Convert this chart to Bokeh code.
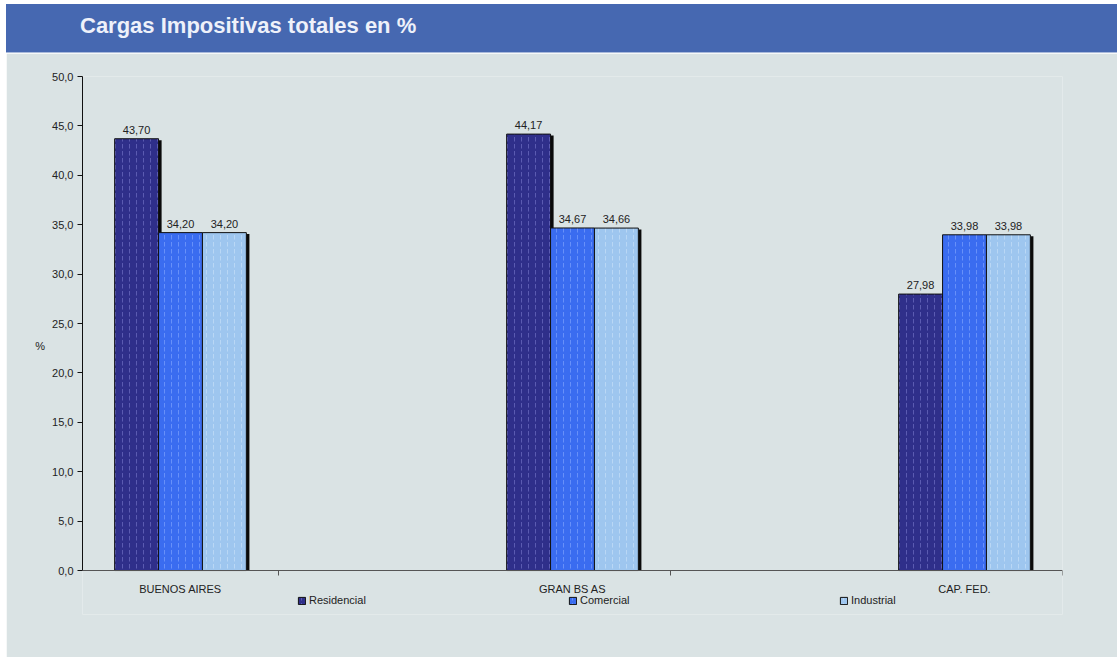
from bokeh.plotting import figure
from bokeh.models import ColumnDataSource, Range1d, FixedTicker, Legend, LegendItem, Div
from bokeh.layouts import column
from bokeh.embed import file_html
from bokeh.resources import INLINE
from bokeh.core.properties import value

# ---- data ----
categories = ["BUENOS AIRES", "GRAN BS AS", "CAP. FED."]
series_names = ["Residencial", "Comercial", "Industrial"]
residencial = [43.70, 44.17, 27.98]
comercial = [34.20, 34.67, 33.98]
industrial = [34.20, 34.66, 33.98]
y_ticks = [0, 5, 10, 15, 20, 25, 30, 35, 40, 45, 50]
title_text = "Cargas Impositivas totales en %"

# ---- styles ----
BG = "#DAE3E4"
HEADER = "#4668B1"
FONT = "Liberation Sans"
colors = ["#2F2F8A", "#3A6CF0", "#9EC6EF"]
hatch_colors = ["#7878CC", "#86A8FF", "#CCE3F8"]
bar_w = 0.112
offsets = [-bar_w, 0.0, bar_w]
shadow_dx = 0.0078

p = figure(frame_width=980, frame_height=538,
           x_range=Range1d(-0.25, 2.25), y_range=Range1d(-4.45, 50),
           output_backend="svg", toolbar_location=None,
           min_border_left=76, min_border_right=55,
           min_border_top=23, min_border_bottom=43,
           border_fill_color=BG, background_fill_color=BG,
           margin=(0, 0, 0, 6))
p.outline_line_color = None
p.grid.visible = False

series = [residencial, comercial, industrial]
renderers = []
# shadows first
for i, vals in enumerate(series):
    xs = [k + offsets[i] + shadow_dx for k in range(len(categories))]
    p.vbar(x=xs, top=[v - 0.15 for v in vals], width=bar_w,
           fill_color="#0A0A0A", line_color=None)
for i, vals in enumerate(series):
    xs = [k + offsets[i] for k in range(len(categories))]
    labels = [f"{v:.2f}".replace(".", ",") for v in vals]
    src = ColumnDataSource(dict(x=xs, top=vals, lab=labels))
    r = p.vbar(x="x", top="top", width=bar_w, source=src,
               fill_color=colors[i], line_color="#111111", line_width=1,
               hatch_pattern="vertical_dash", hatch_color=hatch_colors[i],
               hatch_alpha=0.6, hatch_scale=7, hatch_weight=1)
    renderers.append(r)
    p.text(x="x", y="top", text="lab", source=src,
           text_align="center", text_baseline="bottom", y_offset=-5,
           text_font=value(FONT), text_font_size="11px", text_color="#222222")

# y axis
ya = p.yaxis[0]
ya.ticker = FixedTicker(ticks=y_ticks, minor_ticks=[])
ya.bounds = (0, 50)
ya.major_label_overrides = {t: f"{t:.1f}".replace(".", ",") for t in y_ticks}
ya.major_label_text_font = FONT
ya.major_label_text_font_size = "11px"
ya.major_label_text_color = "#222222"
ya.major_tick_out = 5
ya.major_tick_in = 0
ya.major_label_standoff = 4
ya.axis_line_color = "#111111"
ya.major_tick_line_color = "#111111"
ya.axis_label = "%"
ya.axis_label_orientation = "horizontal"
ya.axis_label_text_font = FONT
ya.axis_label_text_font_size = "11px"
ya.axis_label_text_font_style = "normal"
ya.axis_label_text_color = "#222222"
ya.axis_label_standoff = 4

# x axis, drawn at y = 0
xa = p.xaxis[0]
xa.fixed_location = 0
xa.ticker = FixedTicker(ticks=[0, 1, 2], minor_ticks=[0.25, 1.25, 2.25])
xa.major_label_overrides = {i: c for i, c in enumerate(categories)}
xa.major_tick_out = 0
xa.major_tick_in = 0
xa.minor_tick_out = 5
xa.minor_tick_in = 0
xa.minor_tick_line_color = "#555555"
xa.axis_line_color = "#555555"
xa.major_label_standoff = 7
xa.major_label_text_font = FONT
xa.major_label_text_font_size = "11px"
xa.major_label_text_color = "#222222"

legend = Legend(items=[LegendItem(label=n, renderers=[r]) for n, r in zip(series_names, renderers)],
                orientation="horizontal", spacing=6, location=(213, 6),
                background_fill_alpha=0, border_line_alpha=0,
                glyph_width=9, glyph_height=9, label_height=12, label_width=253,
                label_text_font=FONT, label_text_font_size="11px",
                label_text_color="#222222", label_standoff=3,
                padding=2, margin=0)
p.add_layout(legend)

# header band
header = Div(text=title_text, width=1111, height=49, margin=(4, 0, 0, 6),
             styles={"background-color": HEADER, "color": "#EEF1FA",
                     "font-family": "'Liberation Sans', sans-serif",
                     "font-weight": "bold", "font-size": "22px",
                     "line-height": "43px", "padding-left": "74px",
                     "box-sizing": "border-box", "white-space": "nowrap",
                     "border-bottom": "1px solid #A9BADB"})

layout = column(header, p, spacing=0)
open("out.html", "w").write(file_html(layout, INLINE))
